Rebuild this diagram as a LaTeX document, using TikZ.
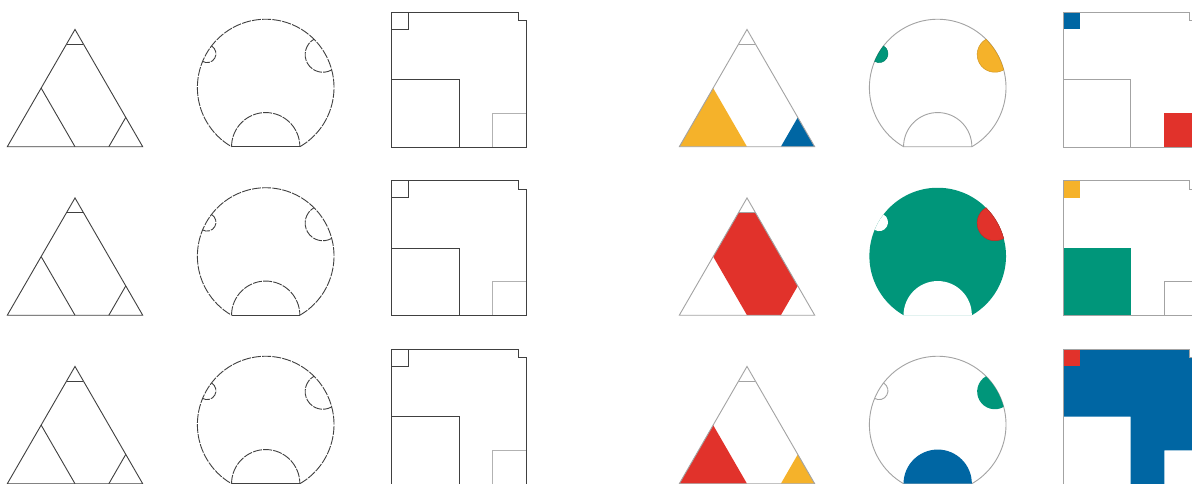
\documentclass[tikz,border=0pt]{standalone}
\definecolor{cyel}{HTML}{F5B22A}
\definecolor{cblu}{HTML}{0066A3}
\definecolor{cred}{HTML}{E1322B}
\definecolor{cgrn}{HTML}{00967A}
\definecolor{lgray}{HTML}{A3A3A3}
\tikzset{
  ink/.style={draw=black!75, line width=0.9pt, line join=miter},
  inkdash/.style={draw=black!75, line width=0.9pt, dash pattern=on 9pt off 1.2pt},
  faint/.style={draw=black!30, line width=0.9pt},
  outl/.style={draw=lgray, line width=0.9pt},
  rim/.style={draw=#1!85!black, line width=0.5pt, fill=#1},
}
% ---- triangle (origin: bottom-left corner, side 135.4)
\newcommand\shpTriCoords{%
  \coordinate (tA) at (0,0); \coordinate (tB) at (135.4,0); \coordinate (tC) at (67.7,117.26);
  \coordinate (tM) at (67.7,0); \coordinate (tL) at (33.85,58.63);
  \coordinate (tRa) at (101.55,0); \coordinate (tR) at (118.475,29.315);
  \coordinate (tCL) at (59.24,102.60); \coordinate (tCR) at (76.16,102.60);}
% ---- circle (origin: centre, radius 68.3)
\newcommand\shpCBody[1]{\path[#1] (-60:68.3) arc[start angle=-60,end angle=240,radius=68.3] -- cycle;}
\newcommand\shpCArc[1]{\path[#1] (-60:68.3) arc[start angle=-60,end angle=240,radius=68.3];}
\newcommand\shpCChord[1]{\path[#1] (240:68.3) -- (-60:68.3);}
\newcommand\shpCNR[1]{\path[#1] (15:68.3) arc[start angle=-60,end angle=-240,radius=17.68] arc[start angle=45,end angle=15,radius=68.3] -- cycle;}
\newcommand\shpCNL[1]{\path[#1] (142.5:68.3) arc[start angle=60,end angle=-120,radius=8.915] arc[start angle=157.5,end angle=142.5,radius=68.3] -- cycle;}
\newcommand\shpCNB[1]{\path[#1] (240:68.3) arc[start angle=180,end angle=0,radius=34.15] -- cycle;}
\newcommand\shpCSR[1]{\path[#1] (15:68.3) arc[start angle=-60,end angle=-240,radius=17.68];}
\newcommand\shpCSL[1]{\path[#1] (142.5:68.3) arc[start angle=60,end angle=-120,radius=8.915];}
\newcommand\shpCSB[1]{\path[#1] (240:68.3) arc[start angle=180,end angle=0,radius=34.15];}
% ---- square (origin: top-left corner, side 134.7)
\newcommand\shpSqOut[1]{\path[#1] (0,0) -- (126.28,0) -- (126.28,-8.42) -- (134.7,-8.42) -- (134.7,-134.7) -- (0,-134.7) -- cycle;}
\newcommand\shpSqTL[1]{\path[#1] (0,0) rectangle (16.84,-16.84);}
\newcommand\shpSqBig[1]{\path[#1] (0,-67.35) rectangle (67.35,-134.7);}
\newcommand\shpSqBR[1]{\path[#1] (101.03,-101.03) rectangle (134.7,-134.7);}
\newcommand\shpSqL[1]{\path[#1] (0,0) -- (126.28,0) -- (126.28,-8.42) -- (134.7,-8.42) -- (134.7,-101.03) -- (101.03,-101.03) -- (101.03,-134.7) -- (67.35,-134.7) -- (67.35,-67.35) -- (0,-67.35) -- cycle;}
% ---- outline versions (left half)
\newcommand\shpTriPlain{\shpTriCoords
  \draw[ink] (tA) -- (tB) -- (tC) -- cycle;
  \draw[ink] (tL) -- (tM); \draw[ink] (tR) -- (tRa); \draw[ink] (tCL) -- (tCR);}
\newcommand\shpCircPlain{%
  \shpCArc{inkdash}\shpCChord{ink}\shpCSR{inkdash}\shpCSL{inkdash}\shpCSB{inkdash}}
\newcommand\shpSqPlain{%
  \shpSqBR{faint}\shpSqBig{ink}\shpSqTL{ink}\shpSqOut{ink}}
\begin{document}
\begin{tikzpicture}[x=1pt,y=1pt]
\useasboundingbox (0,0) rectangle (1192,-483);
\fill[white] (0,0) rectangle (1192,-483);
\clip (0,0) rectangle (1192,-483);
% ================= left half: outlines
\foreach \yb/\yc/\ys in {146.7/87.55/12.3, 315.2/256.05/180.8, 483.7/424.55/349.3}{
  \begin{scope}[shift={(7.3,-\yb)}]\shpTriPlain\end{scope}
  \begin{scope}[shift={(265.7,-\yc)}]\shpCircPlain\end{scope}
  \begin{scope}[shift={(391.7,-\ys)}]\shpSqPlain\end{scope}
}
% ================= right half: coloured
% ---- row 1
\begin{scope}[shift={(679.3,-146.7)}]
  \shpTriCoords
  \fill[cyel] (tA) -- (tM) -- (tL) -- cycle;
  \fill[cblu] (tRa) -- (tB) -- (tR) -- cycle;
  \draw[outl] (tA) -- (tB) -- (tC) -- cycle;
  \draw[outl] (tCL) -- (tCR);
\end{scope}
\begin{scope}[shift={(937.7,-87.55)}]
  \shpCBody{outl}
  \shpCNL{rim=cgrn}
  \shpCNR{rim=cyel}
  \shpCSB{outl}
\end{scope}
\begin{scope}[shift={(1063.3,-12.3)}]
  \shpSqTL{fill=cblu}
  \shpSqBR{fill=cred}
  \shpSqBig{outl}
  \shpSqOut{outl}
\end{scope}
% ---- row 2
\begin{scope}[shift={(679.3,-315.2)}]
  \shpTriCoords
  \fill[cred] (tCL) -- (tCR) -- (tR) -- (tRa) -- (tM) -- (tL) -- cycle;
  \draw[outl] (tA) -- (tB) -- (tC) -- cycle;
  \draw[outl] (tCL) -- (tCR);
\end{scope}
\begin{scope}[shift={(937.7,-256.05)}]
  \shpCBody{fill=cgrn}
  \shpCNL{fill=white}
  \shpCNR{rim=cred}
  \shpCNB{fill=white}
\end{scope}
\begin{scope}[shift={(1063.3,-180.8)}]
  \shpSqTL{fill=cyel}
  \shpSqBig{fill=cgrn}
  \shpSqBR{outl}
  \shpSqOut{outl}
\end{scope}
% ---- row 3
\begin{scope}[shift={(679.3,-483.7)}]
  \shpTriCoords
  \fill[cred] (tA) -- (tM) -- (tL) -- cycle;
  \fill[cyel] (tRa) -- (tB) -- (tR) -- cycle;
  \draw[outl] (tA) -- (tB) -- (tC) -- cycle;
  \draw[outl] (tCL) -- (tCR);
\end{scope}
\begin{scope}[shift={(937.7,-424.55)}]
  \shpCBody{outl}
  \shpCSL{outl}
  \shpCNR{fill=cgrn}
  \shpCNB{fill=cblu}
\end{scope}
\begin{scope}[shift={(1063.3,-349.3)}]
  \shpSqL{fill=cblu}
  \shpSqTL{fill=cred}
  \shpSqOut{outl}
\end{scope}
\end{tikzpicture}
\end{document}
